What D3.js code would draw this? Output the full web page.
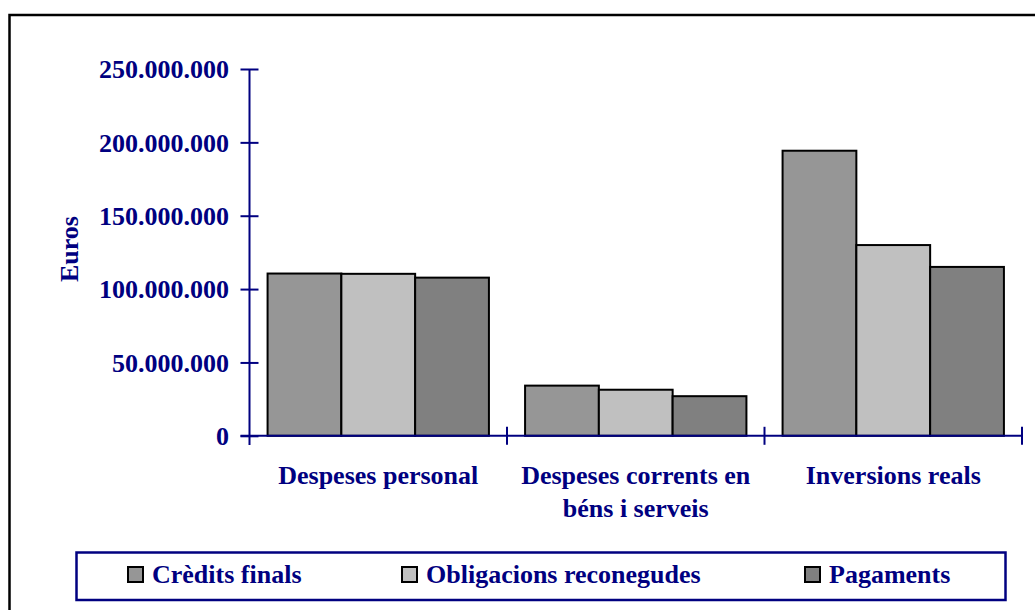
<!DOCTYPE html>
<html>
<head>
<meta charset="utf-8">
<script src="https://cdn.jsdelivr.net/npm/d3@7"></script>
<style>
  html, body { margin: 0; padding: 0; background: #ffffff; }
  svg { display: block; }
  text { font-family: "Liberation Serif", "Times New Roman", serif; font-weight: bold; fill: #000080; }
</style>
</head>
<body>
<svg id="chart" width="1035" height="610"></svg>
<script>
// ---- data ----
const categories = ["Despeses personal", "Despeses corrents en béns i serveis", "Inversions reals"];
const categoryLines = [["Despeses personal"], ["Despeses corrents en", "béns i serveis"], ["Inversions reals"]];
const seriesNames = ["Crèdits finals", "Obligacions reconegudes", "Pagaments"];
const creditsFinals = [110600000, 34200000, 194300000];
const obligacionsReconegudes = [110400000, 31400000, 130000000];
const pagaments = [107800000, 27000000, 115100000];
const yTicks = [0, 50000000, 100000000, 150000000, 200000000, 250000000];
const yTitle = "Euros";
const seriesColors = ["#969696", "#c0c0c0", "#808080"];

const seriesValues = [creditsFinals, obligacionsReconegudes, pagaments];

const svg = d3.select("#chart");
const navy = "#000080";

// outer frame (only top/left visible)
svg.append("path")
  .attr("d", "M9.5,612 L9.5,15 L1037,15")
  .attr("fill", "none").attr("stroke", "#000").attr("stroke-width", 2.5);

// scales
const x = d3.scaleBand().domain(categories).range([249.5, 1022]).paddingInner(0).paddingOuter(0);
const y = d3.scaleLinear().domain([0, 250000000]).range([435.8, 69]);
const inner = d3.scaleBand().domain(seriesNames).range([0, x.bandwidth()]).paddingInner(0).paddingOuter(0.245);

const locale = d3.formatLocale({ decimal: ",", thousands: ".", grouping: [3], currency: ["", " €"] });
const fmt = locale.format(",d");

// bars
const g = svg.append("g");
categories.forEach((c, ci) => {
  seriesNames.forEach((s, si) => {
    const v = seriesValues[si][ci];
    g.append("rect")
      .attr("x", x(c) + inner(s))
      .attr("y", y(v))
      .attr("width", inner.bandwidth())
      .attr("height", y(0) - y(v))
      .attr("fill", seriesColors[si])
      .attr("stroke", "#000")
      .attr("stroke-width", 2);
  });
});

// y axis
const yAxis = svg.append("g").attr("transform", "translate(249.5,0)")
  .call(d3.axisLeft(y).tickValues(yTicks).tickSize(9).tickPadding(11.5).tickFormat(fmt));
yAxis.select(".domain").remove();
yAxis.selectAll(".tick line").attr("x1", 9).attr("x2", -9).attr("stroke", navy).attr("stroke-width", 2);
yAxis.selectAll(".tick text")
  .style("font-family", '"Liberation Serif", serif').style("font-weight", "bold")
  .style("font-size", "26px").attr("fill", navy).attr("dy", "0.34em");
yAxis.append("line").attr("x1", 0).attr("x2", 0).attr("y1", y(250000000)).attr("y2", 445)
  .attr("stroke", navy).attr("stroke-width", 2);

// x axis
const xAxis = svg.append("g").attr("transform", `translate(0,${y(0)})`);
xAxis.append("line").attr("x1", 240.5).attr("x2", 1022).attr("y1", 0).attr("y2", 0)
  .attr("stroke", navy).attr("stroke-width", 2);
const bounds = categories.map(c => x(c)).concat([x(categories[categories.length - 1]) + x.bandwidth()]);
xAxis.selectAll("line.xt").data(bounds.slice(1)).enter().append("line").attr("class", "xt")
  .attr("x1", d => d).attr("x2", d => d).attr("y1", -9).attr("y2", 9)
  .attr("stroke", navy).attr("stroke-width", 2);

// category labels
categories.forEach((c, ci) => {
  const t = svg.append("text")
    .attr("x", x(c) + x.bandwidth() / 2)
    .attr("y", 484)
    .attr("text-anchor", "middle")
    .style("font-size", "26px");
  categoryLines[ci].forEach((ln, li) => {
    t.append("tspan").attr("x", x(c) + x.bandwidth() / 2).attr("dy", li === 0 ? 0 : 32.5).text(ln);
  });
});

// y title
svg.append("text")
  .attr("transform", "translate(78,249) rotate(-90)")
  .attr("text-anchor", "middle")
  .style("font-size", "26px")
  .text(yTitle);

// legend
svg.append("rect").attr("x", 76.5).attr("y", 552.5).attr("width", 929).attr("height", 47.5)
  .attr("fill", "#fff").attr("stroke", navy).attr("stroke-width", 2.5);
const legendX = [128, 402, 805];
seriesNames.forEach((s, si) => {
  svg.append("rect").attr("x", legendX[si]).attr("y", 567).attr("width", 15).attr("height", 15)
    .attr("fill", seriesColors[si]).attr("stroke", "#000").attr("stroke-width", 2);
  svg.append("text").attr("x", legendX[si] + 24).attr("y", 583)
    .style("font-size", "26px").text(s);
});
</script>
</body>
</html>
